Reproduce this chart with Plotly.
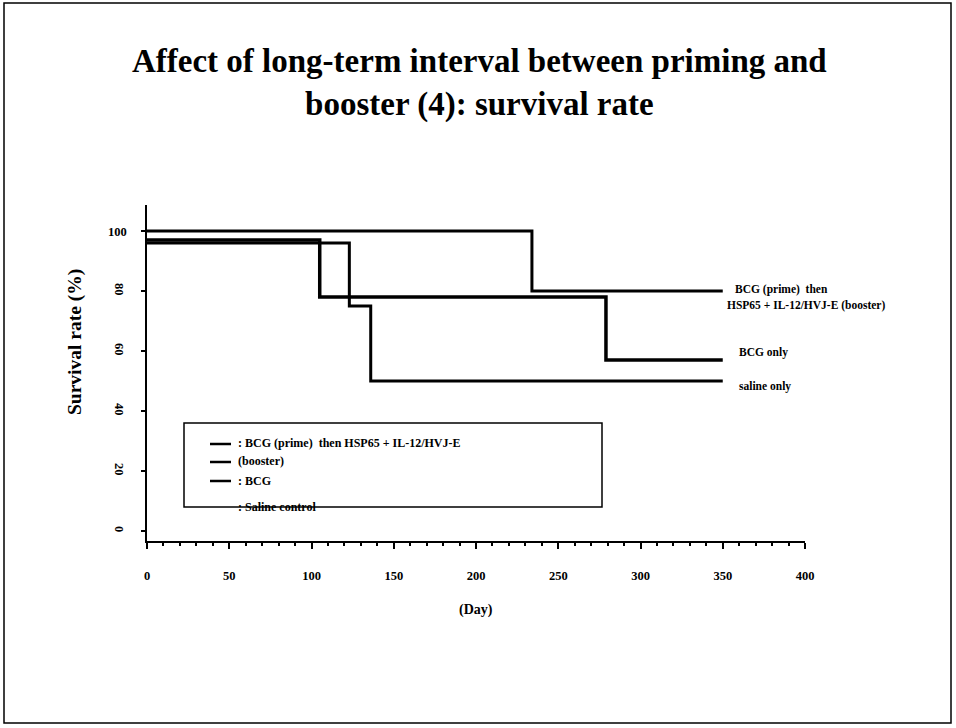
import plotly.graph_objects as go

# ---- data ----
combo_days = [0, 234, 350]
combo_surv = [100, 80, 80]
bcg_days = [0, 105, 279, 350]
bcg_surv = [97, 78, 57, 57]
saline_days = [0, 123, 136, 350]
saline_surv = [96, 75, 50, 50]

x_ticks = [0, 50, 100, 150, 200, 250, 300, 350, 400]
y_ticks = [0, 20, 40, 60, 80, 100]
y_ticktext = ["0", "20", "40", "60", "80", ""]

title_text = "Affect of long-term interval between priming and<br>booster (4): survival rate"
end_labels = ["BCG (prime)  then", "HSP65 + IL-12/HVJ-E (booster)", "BCG only", "saline only"]
legend_texts = [": BCG (prime)  then HSP65 + IL-12/HVJ-E", "(booster)", ": BCG", ": Saline control"]

# ---- geometry helpers (pixel -> paper) ----
W, H = 956, 728
L, R, T, B = 147, 805, 205, 541


def px(x):
    return (x - L) / (R - L)


def py(y):
    return (B - y) / (B - T)


FONT = "Liberation Serif"


def bfont(size):
    return dict(family=FONT, size=size, color="black", weight="bold")


fig = go.Figure()
fig.add_trace(go.Scatter(x=combo_days, y=combo_surv, mode="lines", line_shape="hv",
                         line=dict(color="black", width=3), showlegend=False))
fig.add_trace(go.Scatter(x=bcg_days, y=bcg_surv, mode="lines", line_shape="hv",
                         line=dict(color="black", width=3.5), showlegend=False))
fig.add_trace(go.Scatter(x=saline_days, y=saline_surv, mode="lines", line_shape="hv",
                         line=dict(color="black", width=3), showlegend=False))

annotations = []
# title
annotations.append(dict(text=title_text, x=px(480), y=py(83), xref="paper", yref="paper",
                        showarrow=False, xanchor="center", yanchor="middle", font=bfont(33)))
# horizontal 100 tick label
annotations.append(dict(text="100", x=px(129), y=py(232), xref="paper", yref="paper",
                        showarrow=False, xanchor="right", yanchor="middle", font=bfont(12.5)))
# end labels
end_pos = [(733, 289), (725, 305), (737, 352), (737, 386)]
for t, (xx, yy) in zip(end_labels, end_pos):
    annotations.append(dict(text=t, x=px(xx), y=py(yy), xref="paper", yref="paper",
                            showarrow=False, xanchor="left", yanchor="middle", font=bfont(11.5)))
# legend texts
leg_pos = [(236, 443), (236, 461), (236, 481), (236, 507)]
for t, (xx, yy) in zip(legend_texts, leg_pos):
    annotations.append(dict(text=t, x=px(xx), y=py(yy), xref="paper", yref="paper",
                            showarrow=False, xanchor="left", yanchor="middle", font=bfont(12)))
# axis titles
annotations.append(dict(text="(Day)", x=px(476), y=py(610), xref="paper", yref="paper",
                        showarrow=False, xanchor="center", yanchor="middle", font=bfont(14)))
annotations.append(dict(text="Survival rate (%)", x=px(75), y=py(342), xref="paper", yref="paper",
                        showarrow=False, xanchor="center", yanchor="middle", textangle=-90,
                        font=bfont(19.5)))

shapes = []
# slide frame
shapes.append(dict(type="rect", xref="paper", yref="paper", x0=px(4), x1=px(951), y0=py(723), y1=py(3),
                   line=dict(color="black", width=1.5)))
# legend box
shapes.append(dict(type="rect", xref="paper", yref="paper", x0=px(184), x1=px(602), y0=py(507), y1=py(423),
                   line=dict(color="black", width=1.5)))
# legend samples
for yy in [444, 462, 481]:
    shapes.append(dict(type="line", xref="paper", yref="paper", x0=px(210), x1=px(231), y0=py(yy), y1=py(yy),
                       line=dict(color="black", width=2.5)))

fig.update_layout(
    width=W, height=H,
    margin=dict(l=L, r=W - R, t=T, b=H - B),
    paper_bgcolor="white", plot_bgcolor="white",
    annotations=annotations, shapes=shapes,
    xaxis=dict(range=[0, 400], tickvals=x_ticks, showgrid=False, zeroline=False,
               showline=True, linecolor="black", linewidth=2,
               ticks="outside", ticklen=6, tickwidth=2, tickcolor="black",
               minor=dict(dtick=10, ticks="outside", ticklen=3, tickwidth=1.5, tickcolor="black"),
               tickfont=bfont(12.5), ticklabelstandoff=16),
    yaxis=dict(range=[-3.3, 108.7], tickvals=y_ticks, ticktext=y_ticktext, showgrid=False, zeroline=False,
               showline=True, linecolor="black", linewidth=2,
               ticks="outside", ticklen=4, tickwidth=2, tickcolor="black", tickangle=90,
               tickfont=bfont(12.5), ticklabelstandoff=11),
)

fig.write_html("out.html")
